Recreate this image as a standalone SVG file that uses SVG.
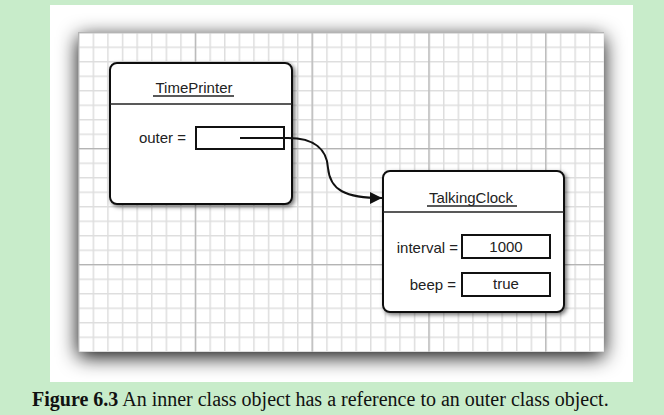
<svg xmlns="http://www.w3.org/2000/svg" width="664" height="415" viewBox="0 0 664 415">
<style>
.lbl{font-family:"Liberation Sans",Arial,sans-serif;font-size:15px;fill:#222}
.box{fill:#fff;stroke:#111;stroke-width:2}
.fld{fill:#fff;stroke:#111;stroke-width:2}
.ln{stroke:#222;stroke-width:1.6;fill:none}
.cap{font-family:"Liberation Serif","Times New Roman",serif;font-size:20px;fill:#111}
</style>
<defs>
<pattern id="minor" patternUnits="userSpaceOnUse" x="78" y="32" width="14.6" height="14.5">
<path d="M0,0 V14.5 M0,0 H14.6" stroke="#dedede" stroke-width="3" fill="none"/>
</pattern>
<pattern id="major" patternUnits="userSpaceOnUse" x="78" y="32" width="116.8" height="116">
<path d="M0,0 V116 M0,0 H116.8" stroke="#b4b4b4" stroke-width="2.4" fill="none"/>
</pattern>
<filter id="panelShadow" x="-20%" y="-20%" width="140%" height="140%">
<feDropShadow dx="0" dy="5" stdDeviation="10" flood-color="#000" flood-opacity="0.95"/>
</filter>
<filter id="boxShadow" x="-10%" y="-10%" width="125%" height="125%">
<feDropShadow dx="2" dy="2" stdDeviation="2" flood-color="#000" flood-opacity="0.55"/>
</filter>
<marker id="arrow" markerUnits="userSpaceOnUse" markerWidth="14" markerHeight="12" refX="12" refY="6" orient="auto">
<path d="M0,0 L12,6 L0,12 Z" fill="#111"/>
</marker>
</defs>
<rect x="0" y="0" width="664" height="415" fill="#c8ecca"/>
<rect x="50" y="5" width="583" height="377" fill="#fff"/>
<g id="grid">
<rect x="78" y="32" width="526" height="320" fill="#fff" filter="url(#panelShadow)"/>
<rect x="78" y="32" width="526" height="320" fill="url(#minor)"/>
<rect x="78" y="32" width="526" height="320" fill="url(#major)"/>
</g>
<g id="TimePrinter">
<rect class="box" x="110" y="63" width="182" height="141" rx="7" filter="url(#boxShadow)"/>
<text class="lbl" x="194" y="93" text-anchor="middle">TimePrinter</text>
<line class="ln" x1="153" y1="96" x2="234" y2="96" stroke-width="1.3"/>
<line class="ln" x1="110" y1="104" x2="292" y2="104"/>
<text class="lbl" x="186" y="143" text-anchor="end">outer =</text>
<rect class="fld" x="196" y="127" width="88" height="22"/>
</g>
<g id="TalkingClock">
<rect class="box" x="383" y="171" width="181" height="141" rx="7" filter="url(#boxShadow)"/>
<text class="lbl" x="471" y="203" text-anchor="middle">TalkingClock</text>
<line class="ln" x1="427" y1="206" x2="517" y2="206" stroke-width="1.3"/>
<line class="ln" x1="383" y1="212" x2="564" y2="212"/>
<text class="lbl" x="458" y="253" text-anchor="end">interval =</text>
<rect class="fld" x="462" y="235" width="88" height="23"/>
<text class="lbl" x="506" y="252" text-anchor="middle">1000</text>
<text class="lbl" x="456" y="290" text-anchor="end">beep =</text>
<rect class="fld" x="462" y="273" width="88" height="23"/>
<text class="lbl" x="506" y="289" text-anchor="middle">true</text>
</g>
<g id="connectors">
<path d="M240,138 L288,138 C315,138 327,150 328,168 C330,190 345,198 382,198" fill="none" stroke="#111" stroke-width="2" marker-end="url(#arrow)"/>
</g>
<text class="cap" x="32" y="406"><tspan font-weight="bold">Figure 6.3</tspan> An inner class object has a reference to an outer class object.</text>
</svg>
